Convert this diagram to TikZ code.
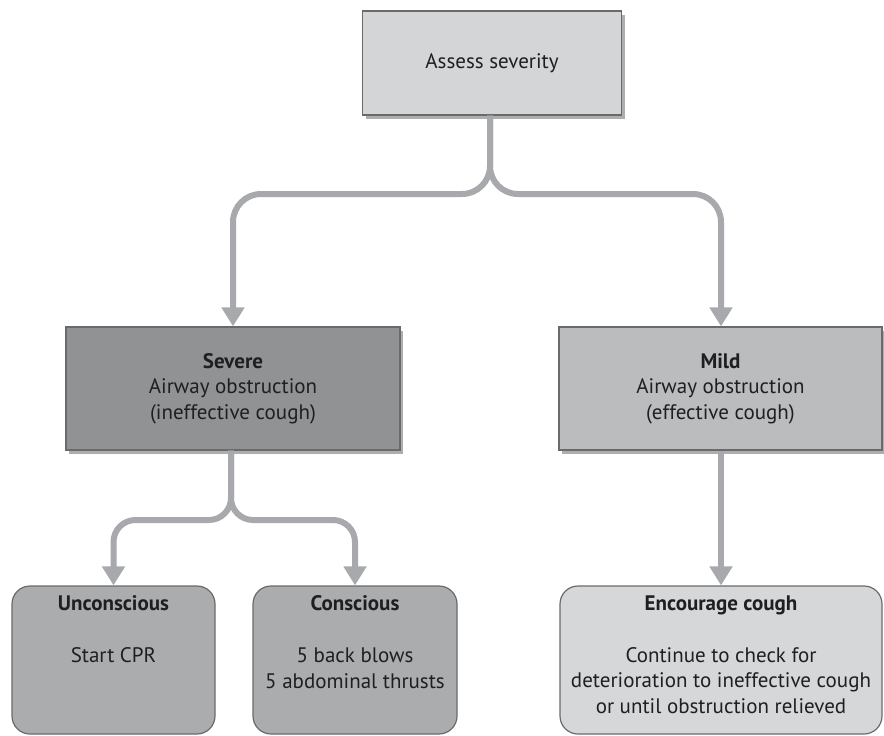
\documentclass[tikz,border=0pt]{standalone}
\usepackage{fontspec}
\setmainfont{PT Sans}
\usepackage{xcolor}
\usepackage{tikz}
\usetikzlibrary{arrows.meta, positioning, shadows}
\definecolor{flowgray}{RGB}{167,169,172}
\definecolor{edgegray}{RGB}{105,106,108}
\definecolor{assessfill}{RGB}{212,213,215}
\definecolor{severefill}{RGB}{145,146,148}
\definecolor{mildfill}{RGB}{187,188,190}
\definecolor{actionfill}{RGB}{171,172,174}
\definecolor{coughfill}{RGB}{214,215,217}

\begin{document}
\begin{tikzpicture}[x=1pt, y=-1pt,
    box/.style={draw=edgegray, line width=1.2pt, rectangle, inner sep=0pt,
        drop shadow={fill=black!70, opacity=0.45, shadow xshift=3pt, shadow yshift=-4pt}},
    actionbox/.style={draw=edgegray, line width=1.2pt, rectangle, rounded corners=18pt, inner sep=0pt},
    boxtext/.style={align=center, font=\fontsize{21}{25.5}\selectfont, text=black!88, inner sep=0pt},
    flow/.style={draw=flowgray, line width=6pt, -{Triangle[width=22pt, length=19pt]}}]
    \useasboundingbox (0,0) rectangle (884,736);

    % boxes
    \node[box, fill=assessfill, minimum width=259pt, minimum height=104pt] (assess) at (492,63) {};
    \node[box, fill=severefill, minimum width=334pt, minimum height=123pt] (severe) at (233,388.5) {};
    \node[box, fill=mildfill, minimum width=323pt, minimum height=123pt] (mild) at (720.5,388.5) {};
    \node[actionbox, fill=actionfill, minimum width=203pt, minimum height=148pt] (uncon) at (113.5,660) {};
    \node[actionbox, fill=actionfill, minimum width=204pt, minimum height=148pt] (con) at (355,660) {};
    \node[actionbox, fill=coughfill, minimum width=322pt, minimum height=148pt] (cough) at (721,660) {};

    % texts
    \node[boxtext] (assesstext) at (assess) {Assess severity};
    \node[boxtext] (severetext) at (severe) {\textbf{Severe}\\Airway obstruction\\(ineffective cough)};
    \node[boxtext] (mildtext) at (mild) {\textbf{Mild}\\Airway obstruction\\(effective cough)};
    \node[boxtext, anchor=north, below=10pt of uncon.north] (uncontext) {\textbf{Unconscious}\\[26.5pt]Start CPR};
    \node[boxtext, anchor=north, below=10pt of con.north] (context) {\textbf{Conscious}\\[26.5pt]5 back blows\\5 abdominal thrusts};
    \node[boxtext, anchor=north, below=10pt of cough.north] (coughtext) {\textbf{Encourage cough}\\[26.5pt]Continue to check for\\deterioration to ineffective cough\\or until obstruction relieved};

    % connectors
    \coordinate (split1) at (490,194);
    \coordinate (split2) at (231,520);
    \draw[flow, rounded corners=28pt] (assess.south -| split1) -- (split1) -- (split1 -| severe.north) -- (severe.north);
    \draw[flow, rounded corners=28pt] (assess.south -| split1) -- (split1) -- (split1 -| cough.north) -- (mild.north -| cough.north);
    \draw[flow, rounded corners=22pt] (severe.south -| split2) -- (split2) -- (split2 -| uncon.north) -- (uncon.north);
    \draw[flow, rounded corners=22pt] (severe.south -| split2) -- (split2) -- (split2 -| con.north) -- (con.north);
    \draw[flow] (mild.south -| cough.north) -- (cough.north);
\end{tikzpicture}
\end{document}
